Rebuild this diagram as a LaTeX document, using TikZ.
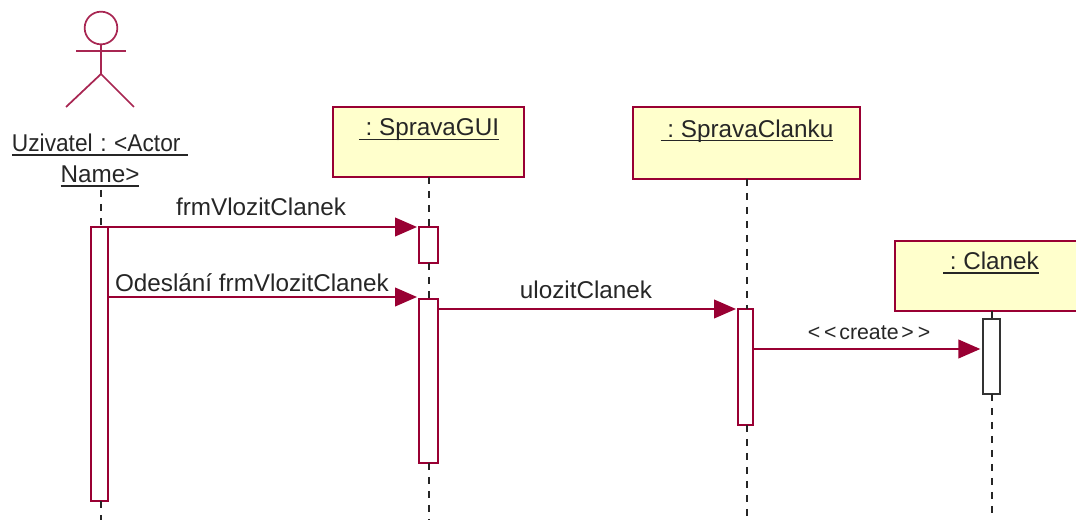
\documentclass[tikz,border=0pt]{standalone}
\usepackage{fontspec}
\usepackage{graphicx}
\setmainfont{Liberation Sans}
\usetikzlibrary{arrows.meta}
\definecolor{umlred}{HTML}{990033}
\definecolor{umlfill}{HTML}{FFFFCC}
\frenchspacing
\newcommand{\ulx}[1]{\leavevmode\setbox0\hbox{#1}\rlap{\copy0}\rule[-3pt]{\wd0}{1pt}}
\tikzset{
  x=0.75pt,y=-0.75pt,
  every node/.style={outer sep=0pt,inner sep=0pt,font=\fontsize{18.2}{22}\selectfont,text=black!85},
  objbox/.style={draw=umlred,fill=umlfill,line width=1.5pt,rectangle},
  actbox/.style={draw=umlred,fill=white,line width=1.5pt,rectangle},
  actdark/.style={draw=black!80,fill=white,line width=1.5pt,rectangle},
  lifeline/.style={draw=black!85,line width=1.5pt,dash pattern=on 5.5pt off 5pt},
  msg/.style={draw=umlred,line width=1.5pt,-{Triangle[length=16.5pt,width=14pt]}},
  limb/.style={draw=umlred!85!white,line width=1.3pt}
}
\begin{document}
\begin{tikzpicture}
\useasboundingbox (0,0) rectangle (1076,520);
\clip (0,0) rectangle (1076,520);
% actor
\node[draw=umlred!85!white,line width=1.3pt,circle,minimum size=24.5pt] (head) at (101,28) {};
\coordinate (hip) at (101,74);
\coordinate (larm) at (76,51);
\coordinate (rarm) at (126,51);
\coordinate (lfoot) at (66,107);
\coordinate (rfoot) at (134,107);
\draw[limb] (head.south) -- (hip);
\draw[limb] (larm) -- (rarm);
\draw[limb] (lfoot) -- (hip) -- (rfoot);
\node (actorname) at (100,160.5) [align=center,text width=140pt,font=\fontsize{18.2}{23.3}\selectfont] {\scalebox{0.936}[1]{\ulx{Uzivatel : <Actor\ }}\\\ulx{Name>}};
% object boxes
\node[objbox,minimum width=143.25pt,minimum height=52.5pt] (gui) at (428.5,142) {};
\node[objbox,minimum width=170.25pt,minimum height=54pt] (cla) at (746.5,143) {};
\node[objbox,minimum width=145.5pt,minimum height=52.5pt] (art) at (992,276) {};
\node (guilabel) at (429,130) {\ulx{\ : SpravaGUI}};
\node (clalabel) at (747,131) {\ulx{\ : SpravaClanku}};
\node (artlabel) at (991,263) {\ulx{\ : Clanek}};
% activations (drawn after lifelines)
\coordinate (actorend) at (101,520);
\coordinate (guiend) at (428.5,520);
\coordinate (claend) at (746.5,520);
\coordinate (artend) at (992,520);
\coordinate (actortop) at (101,190);
\node[actbox,minimum width=12.75pt,minimum height=205.5pt] (a1) at (99.5,364) {};
\node[actbox,minimum width=14.25pt,minimum height=27pt] (g1) at (428.5,245) {};
\node[actbox,minimum width=14.25pt,minimum height=123pt] (g2) at (428.5,381) {};
\node[actbox,minimum width=11.25pt,minimum height=87pt] (c1) at (745.5,367) {};
\node[actdark,minimum width=12.75pt,minimum height=56.25pt] (r1) at (991.5,356.5) {};
\draw[lifeline] (actortop) -- (a1.north -| actortop);
\draw[lifeline] (a1.south -| actortop) -- (actorend);
\draw[lifeline] (gui.south) -- (g1.north);
\draw[lifeline] (g1.south) -- (g2.north);
\draw[lifeline] (g2.south) -- (guiend);
\draw[lifeline] (cla.south) -- (c1.north -| cla.south);
\draw[lifeline] (c1.south -| cla.south) -- (claend);
\draw[lifeline] (art.south) -- (r1.north -| art.south);
\draw[lifeline] (r1.south -| art.south) -- (artend);
% messages
\draw[msg] (a1.north east) -- ([xshift=-1.5pt]g1.north west);
\draw[msg] ([yshift=-52.5pt]a1.north east) -- ([shift={(-1.5pt,1.5pt)}]g2.north west);
\draw[msg] ([yshift=-7.5pt]g2.north east) -- ([shift={(-1.5pt,0pt)}]c1.north west);
\draw[msg] ([yshift=-30pt]c1.north east) -- ([shift={(-2pt,-22.5pt)}]r1.north west);
\node (m1) at (261,207) {frmVlozitClanek};
\node (m2) at (252,283) {Odeslání frmVlozitClanek};
\node (m3) at (586,290) {ulozitClanek};
\node (m4) at (869,333) {\fontsize{16}{20}\selectfont <\kern3pt<\kern2pt create\kern2pt >\kern3pt>};
\end{tikzpicture}
\end{document}
